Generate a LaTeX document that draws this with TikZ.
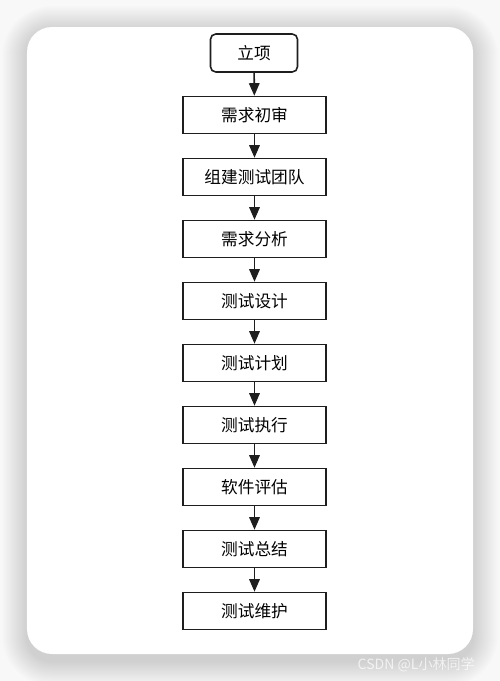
\documentclass[tikz,border=0pt]{standalone}
\usepackage{fontspec}
\setmainfont{Noto Sans CJK SC}
\usetikzlibrary{arrows.meta}
\definecolor{pageGray}{RGB}{248,248,248}
\definecolor{lineBlack}{RGB}{30,30,30}

\tikzset{
  stepbox/.style={draw=lineBlack,line width=0.9pt,fill=white,minimum width=2.86cm,minimum height=0.74cm,font=\fontsize{9.5pt}{11pt}\selectfont},
  startbox/.style={stepbox,rounded corners=3pt,minimum width=1.74cm,minimum height=0.76cm},
  flow/.style={-{Triangle[length=2.5mm,width=2.1mm]},line width=0.9pt,lineBlack}
}

\begin{document}
\begin{tikzpicture}
            % page and card
            \fill[pageGray] (0,0) rectangle (10,-13.62);
            \useasboundingbox (0,0) rectangle (10,-13.62);
            \foreach \i in {1,...,20}
              \fill[black,opacity=0.008,rounded corners=0.5cm+\i*0.025cm] (0.54-\i*0.025,-0.54-0.08+\i*0.025) rectangle (9.46+\i*0.025,-13.08-0.14-\i*0.025);
            \fill[white,rounded corners=0.5cm] (0.54,-0.54) rectangle (9.46,-13.08);

            % Flow
            \node[startbox] (start) at (5.08,-1.06) {立项};
            \node[stepbox] (review) at (5.09,-2.30) {需求初审};
            \node[stepbox] (team) at (5.09,-3.54) {组建测试团队};
            \node[stepbox] (analysis) at (5.09,-4.78) {需求分析};
            \node[stepbox] (design) at (5.09,-6.02) {测试设计};
            \node[stepbox] (plan) at (5.09,-7.26) {测试计划};
            \node[stepbox] (run) at (5.09,-8.50) {测试执行};
            \node[stepbox] (assess) at (5.09,-9.74) {软件评估};
            \node[stepbox] (summary) at (5.09,-10.98) {测试总结};
            \node[stepbox] (upkeep) at (5.09,-12.22) {测试维护};

            \draw[flow] (start) -- (review);
            \draw[flow] (review) -- (team);
            \draw[flow] (team) -- (analysis);
            \draw[flow] (analysis) -- (design);
            \draw[flow] (design) -- (plan);
            \draw[flow] (plan) -- (run);
            \draw[flow] (run) -- (assess);
            \draw[flow] (assess) -- (summary);
            \draw[flow] (summary) -- (upkeep);

            % watermark
            \node[text=white,opacity=0.7,font=\fontsize{8pt}{9pt}\selectfont,anchor=east] (mark) at (9.62,-13.3) {CSDN @L小林同学};
        \end{tikzpicture}
\end{document}
